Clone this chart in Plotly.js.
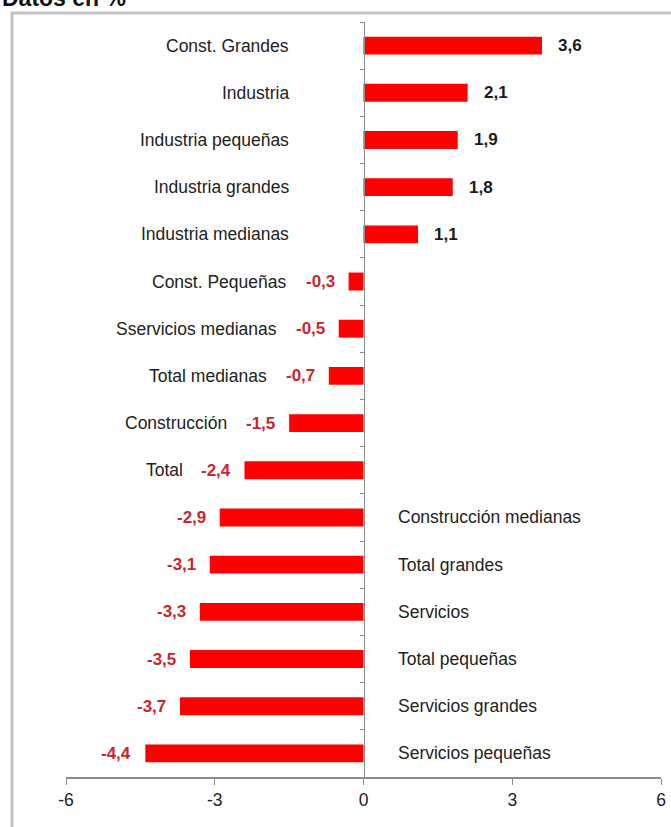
<!DOCTYPE html>
<html>
<head>
<meta charset="utf-8">
<script src="https://cdn.plot.ly/plotly-3.0.1.min.js"></script>
<style>html,body{margin:0;padding:0;background:#fff;}#chart{width:671px;height:827px;}</style>
</head>
<body>
<div id="chart"></div>
<script>
// Data
const categories = ["Const. Grandes","Industria","Industria pequeñas","Industria grandes","Industria medianas",
  "Const. Pequeñas","Sservicios medianas","Total medianas","Construcción","Total",
  "Construcción medianas","Total grandes","Servicios","Total pequeñas","Servicios grandes","Servicios pequeñas"];
const values = [3.6,2.1,1.9,1.8,1.1,-0.3,-0.5,-0.7,-1.5,-2.4,-2.9,-3.1,-3.3,-3.5,-3.7,-4.4];
const xTickVals = [-6,-3,0,3,6];
const xTickText = ["-6","-3","0","3","6"];
const titleText = "Datos en %";

const FONT = "Liberation Sans, Arial, sans-serif";
const fmt = v => v.toFixed(1).replace(".", ",");

const W = 671, H = 827;
const M = {l: 66, r: 10, t: 22, b: 50};
const pw = W - M.l - M.r, ph = H - M.t - M.b;
const px = x => (x - M.l) / pw;      // pixel -> paper x
const py = y => (H - M.b - y) / ph;  // pixel -> paper y

const CAT_SIZE = 17.5;
const annotations = [];
values.forEach((v, i) => {
  const cat = categories[i];
  if (v >= 0) {
    annotations.push({x: v, y: cat, xref: 'x', yref: 'y', text: fmt(v), showarrow: false,
      xanchor: 'left', xshift: 14, font: {family: FONT, size: 17, color: '#1a1a1a', weight: 'bold'}});
    annotations.push({x: 0, y: cat, xref: 'x', yref: 'y', text: cat, showarrow: false,
      xanchor: 'right', xshift: -73, font: {family: FONT, size: CAT_SIZE, color: '#222'}});
  } else {
    annotations.push({x: v, y: cat, xref: 'x', yref: 'y', text: fmt(v), showarrow: false,
      xanchor: 'right', xshift: -12, font: {family: FONT, size: 17, color: '#c8282d', weight: 'bold'}});
    if (v > -2.5) {
      annotations.push({x: v, y: cat, xref: 'x', yref: 'y', text: cat, showarrow: false,
        xanchor: 'right', xshift: -60, font: {family: FONT, size: CAT_SIZE, color: '#222'}});
    } else {
      annotations.push({x: 0, y: cat, xref: 'x', yref: 'y', text: cat, showarrow: false,
        xanchor: 'left', xshift: 32, font: {family: FONT, size: CAT_SIZE, color: '#222'}});
    }
  }
});
annotations.push({x: px(0), y: py(-2), xref: 'paper', yref: 'paper', text: titleText, showarrow: false,
  xanchor: 'left', yanchor: 'middle', font: {family: FONT, size: 23, color: '#111', weight: 'bold'}});

const trace = {
  type: 'bar', orientation: 'h', x: values, y: categories,
  marker: {color: '#ff0000', line: {width: 0}},
  hoverinfo: 'none'
};

const layout = {
  width: W, height: H,
  margin: M,
  paper_bgcolor: '#fff', plot_bgcolor: '#fff',
  showlegend: false,
  bargap: 0.62,
  font: {family: FONT, size: 17, color: '#222'},
  xaxis: {range: [-6, 6], tickvals: xTickVals, ticktext: xTickText, showgrid: false, zeroline: false,
    showline: true, linecolor: '#8c8c8c', linewidth: 1.5, ticks: 'outside', ticklen: 6, tickcolor: '#8c8c8c',
    tickfont: {family: FONT, size: 17.5, color: '#222'}, fixedrange: true},
  yaxis: {type: 'category', categoryorder: 'array', categoryarray: categories, autorange: 'reversed',
    anchor: 'free', position: 0.5, showline: true, linecolor: '#8c8c8c', linewidth: 1.5,
    ticks: 'outside', ticklen: 4, tickcolor: '#8c8c8c', tickson: 'boundaries',
    showticklabels: false, showgrid: false, zeroline: false, fixedrange: true},
  annotations: annotations,
  shapes: [
    {type: 'line', xref: 'paper', yref: 'paper', x0: px(12), x1: px(12), y0: py(12), y1: py(830),
      line: {color: '#c4c4c4', width: 3}},
    {type: 'line', xref: 'paper', yref: 'paper', x0: px(11), x1: px(675), y0: py(13), y1: py(13),
      line: {color: '#c4c4c4', width: 3}}
  ]
};

Plotly.newPlot('chart', [trace], layout, {staticPlot: true, displayModeBar: false});
</script>
</body>
</html>
